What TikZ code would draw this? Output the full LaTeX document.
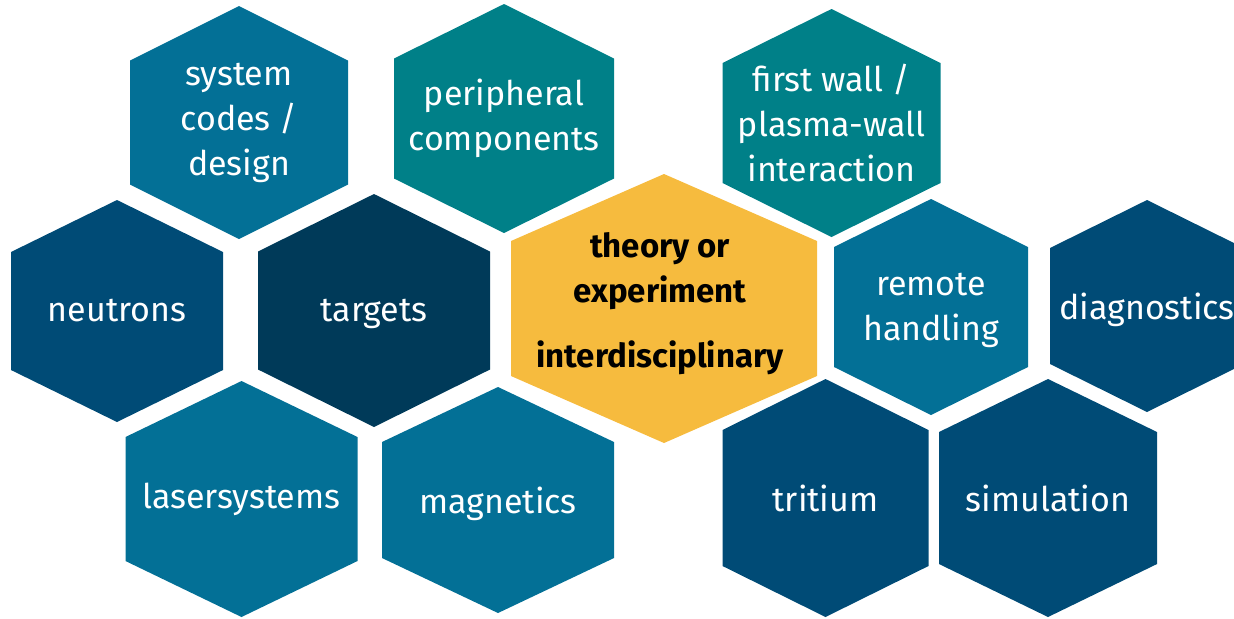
\documentclass[tikz,border=0pt]{standalone}
\usepackage{fontspec}
\setmainfont{Fira Sans}

\definecolor{hexblue}{RGB}{3,112,150}
\definecolor{hexteal}{RGB}{0,128,136}
\definecolor{hexnavy}{RGB}{0,75,118}
\definecolor{hexdark}{RGB}{0,58,89}
\definecolor{hexyellow}{RGB}{246,187,62}

\tikzset{
  hexlabel/.style={text=white, align=center, inner sep=0pt,
    font=\fontsize{17}{22.5}\selectfont},
  oneline/.style={text depth=0pt},
  corelabel/.style={text=black, align=center, inner sep=0pt,
    font=\fontsize{16.5}{22.5}\selectfont\bfseries}
}

% #1 name, (#2,#3) centre, #4 half width, #5 half height, #6 side offset, #7 colour, #8 label options, #9 text
\newcommand{\hexcell}[9]{%
  \fill[#7] ({#2},{#3-#5}) -- ({#2+#4},{#3-#6}) -- ({#2+#4},{#3+#6})
    -- ({#2},{#3+#5}) -- ({#2-#4},{#3+#6}) -- ({#2-#4},{#3-#6}) -- cycle;
  \node[hexlabel, #8] (#1) at (#2,#3) {#9};}

\begin{document}
\begin{tikzpicture}[x=0.5pt, y=-0.5pt]
    \useasboundingbox (0,0) rectangle (1234,618);

    % top row
    \hexcell{system}{239}{122.5}{109}{116.5}{62}{hexblue}{}{system\\codes /\\design}
    \hexcell{peripheral}{504}{118.5}{110}{114.5}{60}{hexteal}{}{peripheral\\components}
    \hexcell{firstwall}{831.5}{123}{109}{114}{60}{hexteal}{}{first wall /\\plasma-wall\\interaction}

    % middle row
    \hexcell{neutrons}{117}{311}{106}{111}{59}{hexnavy}{}{neutrons}
    \hexcell{targets}{374}{310.5}{116}{116.5}{59}{hexdark}{oneline}{targets}
    \hexcell{remote}{931}{307}{97}{108}{60}{hexblue}{oneline}{remote\\handling}
    \hexcell{diagnostics}{1147}{306}{97}{106}{58}{hexnavy}{oneline}{diagnostics}

    % centre cell
    \fill[hexyellow] (664,174) -- (817,241) -- (817,376) -- (664,443)
      -- (511,376) -- (511,241) -- cycle;
    \node[corelabel] (core) at (660,304) {theory or\\experiment\\[10pt]interdisciplinary};

    % bottom row
    \hexcell{lasersystems}{241.5}{499}{116}{118}{62}{hexblue}{}{lasersystems}
    \hexcell{magnetics}{498}{500}{116}{113}{58}{hexblue}{oneline}{magnetics}
    \hexcell{tritium}{825.5}{498}{103}{119}{68}{hexnavy}{}{tritium}
    \hexcell{simulation}{1048}{498}{109}{119}{66}{hexnavy}{}{simulation}
\end{tikzpicture}
\end{document}
